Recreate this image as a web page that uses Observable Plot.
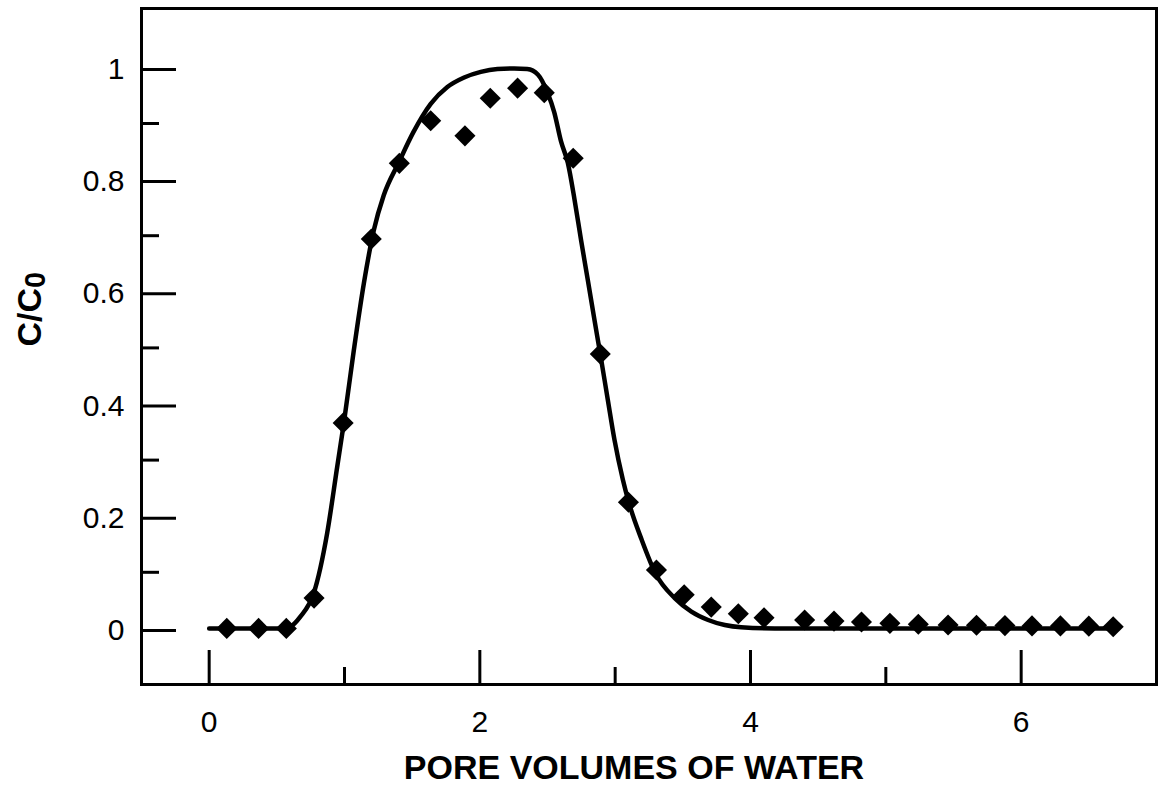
<!DOCTYPE html>
<html>
<head>
<meta charset="utf-8">
<script src="https://cdn.jsdelivr.net/npm/d3@7"></script>
<script src="https://cdn.jsdelivr.net/npm/@observablehq/plot@0.6"></script>
<style>
  html, body { margin: 0; padding: 0; background: #fff; }
  #chart svg { display: block; }
</style>
</head>
<body>
<div id="chart"></div>
<script>
// Measured breakthrough data: pore volumes of water vs relative concentration C/C0
const measuredPV = [0.13, 0.365, 0.57, 0.775, 0.99, 1.198, 1.405, 1.637, 1.89, 2.077, 2.279, 2.476,
  2.69, 2.89, 3.098, 3.305, 3.51, 3.71, 3.91, 4.10, 4.40, 4.617, 4.82, 5.03, 5.24, 5.46,
  5.67, 5.88, 6.08, 6.29, 6.50, 6.68];
const measuredC = [0.0, 0.0, 0.0, 0.054, 0.366, 0.694, 0.829, 0.905, 0.878, 0.945, 0.963, 0.955,
  0.838, 0.489, 0.225, 0.104, 0.06, 0.038, 0.026, 0.019, 0.015, 0.013, 0.0115, 0.009, 0.0075, 0.006,
  0.0055, 0.005, 0.0045, 0.0045, 0.004, 0.003];

// Model (fitted) curve
const modelPV = [0, 0.3, 0.55, 0.6, 0.674, 0.773, 0.872, 0.946, 0.995, 1.069, 1.143, 1.217, 1.29,
  1.40, 1.51, 1.637, 1.76, 1.884, 2.007, 2.13, 2.254, 2.35, 2.43, 2.5, 2.55, 2.6, 2.65, 2.70,
  2.748, 2.798, 2.847, 2.89, 2.946, 2.995, 3.057, 3.099, 3.196, 3.30, 3.44, 3.563, 3.687, 3.81,
  3.93, 4.18, 5.0, 6.0, 6.68];
const modelC = [0, 0, 0, 0.003, 0.021, 0.063, 0.17, 0.288, 0.366, 0.496, 0.615, 0.71, 0.772,
  0.83, 0.885, 0.935, 0.965, 0.982, 0.992, 0.997, 0.998, 0.997, 0.987, 0.955, 0.92, 0.868, 0.83, 0.764,
  0.692, 0.621, 0.55, 0.489, 0.407, 0.336, 0.265, 0.226, 0.158, 0.097, 0.054, 0.030, 0.015, 0.006,
  0.002, 0, 0, 0, 0];

const xMajorTicks = [0, 2, 4, 6];
const xMinorTicks = [1, 3, 5];
const yMajorTicks = [0, 0.2, 0.4, 0.6, 0.8, 1];
const yMinorTicks = [0.1, 0.3, 0.5, 0.7, 0.9];

const xTitle = "PORE VOLUMES OF WATER";
const yTitle = "C/C";
const yTitleSub = "0";

const measured = measuredPV.map((x, i) => ({pv: x, c: measuredC[i]}));
const model = modelPV.map((x, i) => ({pv: x, c: modelC[i]}));

const chart = Plot.plot({
  width: 1158,
  height: 788,
  marginLeft: 141,
  marginRight: 2,
  marginTop: 8,
  marginBottom: 104,
  style: {fontFamily: "'Liberation Sans', Arial, Helvetica, sans-serif", color: "#000", background: "#fff"},
  x: {domain: [-0.5, 7.0]},
  y: {domain: [-0.1, 1.105]},
  marks: [
    Plot.frame({stroke: "#000", strokeWidth: 3}),
    // inward ticks on the bottom axis
    Plot.axisX(xMajorTicks, {tickSize: -34, tickPadding: 60, fontSize: 30, strokeWidth: 3,
      label: null, tickFormat: d => String(d)}),
    Plot.axisX(xMinorTicks, {tickSize: -17, strokeWidth: 3, label: null, tickFormat: () => ""}),
    // inward ticks on the left axis
    Plot.axisY(yMajorTicks, {tickSize: -35, tickPadding: 52, fontSize: 30, strokeWidth: 3, dy: 2,
      label: null, tickFormat: d => String(d)}),
    Plot.axisY(yMinorTicks, {tickSize: -18, strokeWidth: 3, label: null, tickFormat: () => ""}),
    Plot.line(model, {x: "pv", y: "c", stroke: "#000", strokeWidth: 4.5, curve: "monotone-x"}),
    Plot.dot(measured, {x: "pv", y: "c", symbol: "diamond2", r: 9.5, fill: "#000", stroke: "none"}),
    Plot.text([xTitle], {text: d => d, frameAnchor: "bottom", dx: -15, dy: 84, fontSize: 34,
      fontWeight: "bold", lineAnchor: "middle"}),
    Plot.text([yTitle], {text: d => d, frameAnchor: "left", dx: -111, rotate: -90, fontSize: 34,
      fontWeight: "bold", lineAnchor: "middle"})
  ]
});

document.getElementById("chart").appendChild(chart);

// subscript zero on the y-axis title
d3.select(chart).selectAll("text")
  .filter(function () { return this.textContent === yTitle; })
  .append("tspan")
  .attr("font-size", "0.85em")
  .attr("dy", "0.12em")
  .text(yTitleSub);
</script>
</body>
</html>
